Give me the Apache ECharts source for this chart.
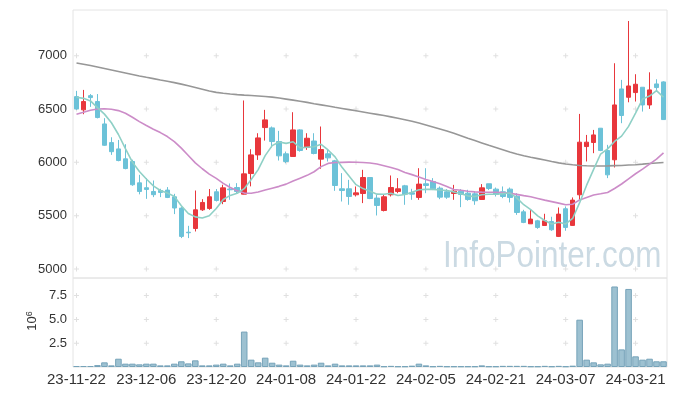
<!DOCTYPE html>
<html>
<head>
<meta charset="utf-8">
<script src="https://cdn.jsdelivr.net/npm/echarts@6/dist/echarts.min.js"></script>
<style>
html,body{margin:0;padding:0;background:#fff;}
#c{width:677px;height:396px;}
</style>
</head>
<body>
<div id="c"></div>
<script>
const dates = [
'23-11-22','23-11-23','23-11-24','23-11-27','23-11-28','23-11-29','23-11-30',
'23-12-01','23-12-04','23-12-05','23-12-06','23-12-07','23-12-08','23-12-11','23-12-12','23-12-13','23-12-14','23-12-15','23-12-18','23-12-19','23-12-20','23-12-21','23-12-22','23-12-26','23-12-27','23-12-28',
'24-01-02','24-01-03','24-01-04','24-01-05','24-01-08','24-01-09','24-01-10','24-01-11','24-01-12','24-01-15','24-01-16','24-01-17','24-01-18','24-01-19','24-01-22','24-01-23','24-01-24','24-01-25','24-01-26','24-01-29','24-01-30','24-01-31',
'24-02-01','24-02-02','24-02-05','24-02-06','24-02-07','24-02-08','24-02-13','24-02-14','24-02-15','24-02-16','24-02-19','24-02-20','24-02-21','24-02-22','24-02-23','24-02-26','24-02-27','24-02-28','24-02-29',
'24-03-04','24-03-05','24-03-06','24-03-07','24-03-08','24-03-11','24-03-12','24-03-13','24-03-14','24-03-15','24-03-18','24-03-19','24-03-20','24-03-21','24-03-22','24-03-25','24-03-26','24-03-27'
];
const opens = [6616,6492,6625,6570,6360,6185,6126,6033,6008,5808,
5762,5727,5736,5740,5677,5571,5345,5380,5555,5568,
5724,5633,5750,5764,5702,5895,6070,6326,6323,6195,
6080,6055,6304,6139,6200,6030,6080,6014,5752,5752,
5696,5708,5858,5665,5549,5696,5727,5780,5714,5671,
5799,5820,5758,5724,5708,5730,5711,5705,5652,5799,
5749,5724,5749,5683,5536,5424,5452,5408,5446,5306,
5565,5409,5696,6148,6186,6320,6111,6024,6688,6610,
6654,6704,6538,6735,6754];
const closes = [6501,6570,6607,6420,6160,6100,6017,5942,5790,5727,
5746,5697,5718,5671,5572,5306,5340,5555,5624,5677,
5643,5761,5743,5727,5892,6070,6229,6398,6195,6061,
6008,6304,6111,6226,6083,6120,6042,5783,5736,5680,
5714,5858,5661,5596,5677,5764,5752,5702,5702,5796,
5783,5752,5674,5674,5730,5699,5652,5640,5761,5755,
5699,5680,5671,5530,5437,5468,5390,5452,5368,5515,
5390,5646,6189,6189,6257,6111,5883,6538,6439,6716,
6732,6538,6679,6701,6401];
const lows = [6492,6451,6520,6412,6155,6070,6010,5935,5780,5700,
5658,5674,5674,5665,5515,5290,5290,5352,5545,5555,
5633,5608,5649,5705,5700,5775,6023,6204,6139,6017,
5992,6055,6100,6117,6075,5940,6008,5733,5633,5602,
5680,5618,5655,5502,5540,5680,5711,5602,5649,5649,
5711,5740,5655,5658,5649,5580,5640,5602,5649,5740,
5680,5664,5624,5508,5430,5424,5377,5408,5358,5300,
5359,5405,5649,6008,6086,6105,5852,5952,6367,6563,
6570,6476,6501,6679,6400];
const highs = [6670,6679,6640,6640,6414,6235,6210,6170,6025,5883,
5852,5830,5752,5768,5705,5580,5405,5736,5655,5750,
5750,5790,5802,5805,6580,6123,6273,6492,6336,6295,
6101,6470,6310,6273,6273,6336,6117,6023,5899,5836,
5774,5930,5862,5696,5696,5877,5852,5789,5752,5945,
5945,5852,5774,5749,5789,5749,5743,5727,5796,5800,
5764,5774,5764,5711,5555,5561,5461,5518,5490,5577,
5587,5671,6454,6257,6304,6322,6164,6929,6773,7325,
6826,6704,6844,6779,6760];
const volumes = [0.1,0.1,0.1,0.2,0.49,0.17,0.87,0.35,0.35,0.28,
0.35,0.35,0.17,0.17,0.35,0.6,0.38,0.7,0.17,0.17,
0.25,0.35,0.17,0.35,3.72,0.77,0.49,0.98,0.45,0.25,
0.17,0.66,0.25,0.17,0.25,0.45,0.17,0.35,0.17,0.17,
0.17,0.17,0.17,0.25,0.07,0.12,0.07,0.07,0.14,0.35,
0.17,0.07,0.12,0.07,0.07,0.07,0.07,0.07,0.17,0.07,
0.07,0.12,0.12,0.12,0.12,0.07,0.07,0.12,0.07,0.12,
0.07,0.14,4.97,0.77,0.49,0.28,0.35,8.46,1.85,8.2,
1.12,0.77,0.87,0.6,0.6];
const ma5 = [6610,6600,6576,6513,6452,6371,6261,6128,6002,5915,
5844,5780,5736,5712,5681,5593,5521,5489,5479,5500,
5568,5652,5690,5710,5753,5839,5932,6063,6157,6191,
6178,6193,6136,6142,6146,6169,6116,6051,5953,5872,
5791,5754,5730,5702,5701,5711,5690,5698,5719,5743,
5747,5747,5741,5736,5723,5706,5686,5679,5696,5701,
5701,5707,5713,5667,5603,5557,5499,5455,5423,5439,
5423,5474,5622,5786,5934,6078,6126,6196,6246,6337,
6462,6593,6621,6673,6610];
const ma20 = [6451,6470,6488,6500,6502,6498,6485,6460,6423,6382,
6345,6311,6279,6242,6195,6133,6064,5995,5940,5890,
5850,5803,5764,5733,5712,5710,5722,5740,5758,5775,
5796,5826,5852,5878,5912,5960,5990,5998,6000,6002,
6001,5998,5994,5984,5968,5952,5932,5905,5885,5863,
5840,5820,5799,5773,5746,5738,5729,5723,5721,5720,
5720,5718,5711,5700,5688,5677,5662,5646,5632,5618,
5602,5607,5648,5671,5694,5705,5717,5755,5797,5845,
5893,5936,5984,6030,6088];
const ma120 = [6932,6920,6907,6894,6880,6866,6852,6838,6824,6810,
6797,6785,6772,6760,6747,6733,6718,6702,6686,6668,
6656,6648,6641,6635,6630,6626,6622,6617,6611,6603,
6593,6583,6573,6562,6550,6539,6528,6516,6505,6494,
6483,6472,6461,6450,6439,6426,6413,6400,6385,6368,
6350,6331,6312,6293,6272,6249,6226,6204,6182,6160,
6139,6118,6097,6078,6062,6048,6035,6022,6008,5995,
5985,5977,5971,5968,5966,5966,5967,5969,5971,5975,
5978,5983,5989,5994,5999];
const priceTicks = [5000,5500,6000,6500,7000];
const volTicks = [2.5,5.0,7.5];
const markCols = [0,10,20,30,40,50,60,70,80];

const FONT = "'Liberation Sans', Arial, sans-serif";
const candleData = dates.map((d,i)=>[opens[i],closes[i],lows[i],highs[i]]);
const priceMarks = [];
markCols.forEach(c=>priceTicks.forEach(v=>priceMarks.push([c,v])));
const volMarks = [];
markCols.forEach(c=>volTicks.forEach(v=>volMarks.push([c,v])));
const plus = 'path://M2,0H3V2H5V3H3V5H2V3H0V2H2Z';

const chart = echarts.init(document.getElementById('c'), null, {renderer:'canvas'});
chart.setOption({
  animation:false,
  backgroundColor:'#fff',
  grid:[
    {left:73,right:10,top:10,height:268,show:true,borderColor:'#e4e4e4',borderWidth:1},
    {left:73,right:10,top:278,height:89,show:true,borderColor:'#e4e4e4',borderWidth:1}
  ],
  xAxis:[
    {type:'category',gridIndex:0,data:dates,boundaryGap:true,axisLine:{show:false},axisTick:{show:false},axisLabel:{show:false},splitLine:{show:false}},
    {type:'category',gridIndex:1,data:dates,boundaryGap:true,axisLine:{show:false},axisTick:{show:false},splitLine:{show:false},
     axisLabel:{interval:9,fontSize:15,color:'#333',margin:5,fontFamily:FONT}}
  ],
  yAxis:[
    {type:'value',gridIndex:0,min:4916,max:7428,scale:true,splitLine:{show:false},axisLine:{show:false},axisTick:{show:false},
     axisLabel:{fontSize:13,color:'#333',margin:6,fontFamily:FONT,showMinLabel:false,showMaxLabel:false,
       formatter:v=> (priceTicks.indexOf(v)>=0 ? String(v) : '')}},
    {type:'value',gridIndex:1,min:0,max:9.35,interval:2.5,splitLine:{show:false},axisLine:{show:false},axisTick:{show:false},
     axisLabel:{fontSize:13,color:'#333',margin:6,fontFamily:FONT,showMinLabel:false,showMaxLabel:false,
       formatter:v=> (v>0 && v<9 ? v.toFixed(1) : '')}}
  ],
  graphic:[
    {type:'text',x:443,y:238,scaleX:0.85,z:0,silent:true,
     style:{text:'InfoPointer.com',font:"37px 'Liberation Sans', Arial, sans-serif",fill:'#cbdae3'}},
    {type:'text',x:32,y:321,rotation:Math.PI/2,silent:true,
     style:{text:'{a|10}{b|6}',align:'center',verticalAlign:'middle',
       rich:{a:{fontSize:13,fill:'#333',fontFamily:FONT,verticalAlign:'bottom'},
             b:{fontSize:9,fill:'#333',fontFamily:FONT,verticalAlign:'top'}}}}
  ],
  series:[
    {type:'scatter',xAxisIndex:0,yAxisIndex:0,data:priceMarks,symbol:plus,symbolSize:5,silent:true,z:1,
     itemStyle:{color:'#d8d8d8'}},
    {type:'scatter',xAxisIndex:1,yAxisIndex:1,data:volMarks,symbol:plus,symbolSize:5,silent:true,z:1,
     itemStyle:{color:'#d8d8d8'}},
    {type:'candlestick',xAxisIndex:0,yAxisIndex:0,data:candleData,barWidth:5,z:3,
     itemStyle:{color:'#e8373c',color0:'#6cc2d8',borderColor:'#e8373c',borderColor0:'#6cc2d8',borderWidth:1}},
    {type:'line',xAxisIndex:0,yAxisIndex:0,data:ma120,showSymbol:false,z:4,lineStyle:{color:'#979797',width:1.6}},
    {type:'line',xAxisIndex:0,yAxisIndex:0,data:ma20,showSymbol:false,z:4,lineStyle:{color:'#cc8cc8',width:1.6}},
    {type:'line',xAxisIndex:0,yAxisIndex:0,data:ma5,showSymbol:false,z:4,lineStyle:{color:'#8fd0c6',width:1.6}},
    {type:'bar',xAxisIndex:1,yAxisIndex:1,data:volumes,barCategoryGap:'6%',z:3,
     itemStyle:{color:'#9dc1d1',borderColor:'#76a3b9',borderWidth:1}}
  ]
});
</script>
</body>
</html>
